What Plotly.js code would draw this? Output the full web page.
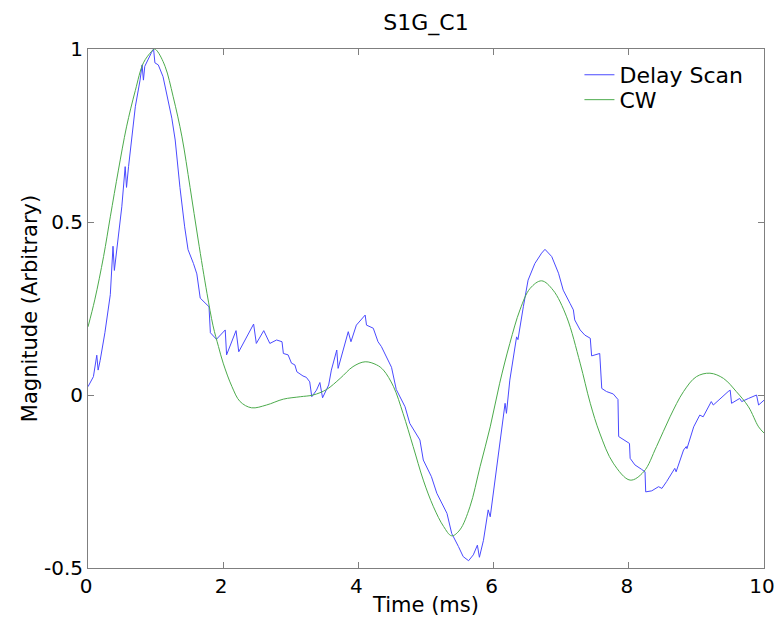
<!DOCTYPE html>
<html>
<head>
<meta charset="utf-8">
<script src="https://cdn.plot.ly/plotly-3.0.1.min.js"></script>
<style>html,body{margin:0;padding:0;background:#fff;}#chart{width:775px;height:626px;}</style>
</head>
<body>
<div id="chart"></div>
<script>
const chartTitle = "S1G_C1";
const xTitle = "Time (ms)";
const yTitle = "Magnitude (Arbitrary)";
const seriesNames = ["Delay Scan", "CW"];
const xTickVals = [0, 2, 4, 6, 8, 10];
const yTickVals = [-0.5, 0, 0.5, 1];
const yTickText = ["-0.5", "0", "0.5", "1"];

const delayX = [
  0, 0.08, 0.13, 0.15, 0.18, 0.25, 0.33, 0.37, 0.39, 0.42,
  0.50, 0.55, 0.57, 0.60, 0.65, 0.70, 0.77, 0.80, 0.82, 0.84,
  0.94, 0.97, 0.99, 1.04, 1.11, 1.16, 1.24, 1.29, 1.36, 1.43,
  1.48, 1.56, 1.61, 1.66, 1.73, 1.79, 1.81, 1.90, 2.03, 2.05,
  2.19, 2.23, 2.45, 2.49, 2.60, 2.69, 2.79, 2.87, 2.89, 2.96,
  3.01, 3.06, 3.09, 3.18, 3.23, 3.28, 3.31, 3.38, 3.43, 3.47,
  3.56, 3.60, 3.68, 3.70, 3.85, 3.89, 3.97, 4.10, 4.12, 4.22,
  4.29, 4.34, 4.49, 4.56, 4.69, 4.76, 4.91, 4.96, 5.08, 5.16,
  5.31, 5.38, 5.48, 5.55, 5.63, 5.70, 5.76, 5.79, 5.85, 5.92,
  5.95, 6.02, 6.09, 6.17, 6.19, 6.24, 6.34, 6.36, 6.44, 6.51,
  6.61, 6.71, 6.76, 6.86, 6.96, 7.03, 7.13, 7.18, 7.20, 7.28,
  7.35, 7.43, 7.45, 7.57, 7.60, 7.67, 7.77, 7.84, 7.85, 7.97,
  8.01, 8.02, 8.09, 8.19, 8.24, 8.25, 8.34, 8.44, 8.49, 8.56,
  8.68, 8.70, 8.81, 8.85, 8.86, 8.96, 9.05, 9.10, 9.22, 9.25,
  9.35, 9.47, 9.50, 9.52, 9.64, 9.67, 9.77, 9.89, 9.92, 10.0
];
const delayY = [
  0.024, 0.053, 0.115, 0.072, 0.10, 0.18, 0.29, 0.43, 0.36, 0.41,
  0.544, 0.66, 0.60, 0.66, 0.756, 0.833, 0.91, 0.954, 0.91, 0.95,
  0.99, 1.0, 0.96, 0.954, 0.92, 0.87, 0.80, 0.737, 0.60, 0.486,
  0.42, 0.38, 0.35, 0.28, 0.266, 0.255, 0.18, 0.161, 0.188, 0.116,
  0.186, 0.125, 0.205, 0.149, 0.186, 0.149, 0.159, 0.154, 0.12, 0.116,
  0.092, 0.087, 0.067, 0.055, 0.051, 0.038, -0.005, 0.014, 0.036, -0.008,
  0.029, 0.072, 0.13, 0.077, 0.183, 0.154, 0.202, 0.231, 0.202, 0.193,
  0.154, 0.14, 0.08, 0.016, -0.034, -0.082, -0.13, -0.188, -0.236, -0.284,
  -0.342, -0.40, -0.438, -0.467, -0.479, -0.462, -0.434, -0.469, -0.42, -0.332,
  -0.352, -0.246, -0.13, -0.024, -0.053, 0.043, 0.168, 0.16, 0.255, 0.332,
  0.38, 0.41, 0.421, 0.40, 0.352, 0.303, 0.265, 0.246, 0.217, 0.188,
  0.173, 0.164, 0.113, 0.12, 0.019, 0.01, 0.003, -0.013, -0.12, -0.135,
  -0.14, -0.183, -0.202, -0.215, -0.222, -0.28, -0.277, -0.265, -0.27, -0.25,
  -0.212, -0.222, -0.159, -0.149, -0.155, -0.092, -0.058, -0.063, -0.019, -0.029,
  -0.01, 0.01, 0.014, -0.024, -0.01, -0.019, -0.01, 0.0, -0.029, -0.015
];

const cwX = [
  0, 0.10, 0.23, 0.33, 0.45, 0.57, 0.70, 0.82, 0.94, 0.98,
  1.02, 1.14, 1.26, 1.39, 1.51, 1.63, 1.76, 1.85, 1.93, 2.00,
  2.13, 2.25, 2.42, 2.64, 2.89, 3.14, 3.33, 3.53, 3.73, 3.92,
  4.10, 4.27, 4.37, 4.52, 4.66, 4.81, 4.96, 5.11, 5.26, 5.38,
  5.50, 5.65, 5.80, 5.95, 6.09, 6.24, 6.39, 6.54, 6.71, 6.88,
  7.08, 7.28, 7.43, 7.57, 7.77, 8.02, 8.22, 8.41, 8.61, 8.81,
  9.00, 9.20, 9.40, 9.59, 9.77, 9.92, 10.0
];
const cwY = [
  0.197, 0.275, 0.40, 0.515, 0.65, 0.775, 0.88, 0.96, 0.993, 1.0,
  0.995, 0.95, 0.862, 0.746, 0.60, 0.448, 0.294, 0.20, 0.14, 0.092,
  0.024, -0.019, -0.037, -0.029, -0.012, -0.005, 0.0, 0.016, 0.048, 0.082,
  0.096, 0.087, 0.072, 0.024, -0.053, -0.149, -0.246, -0.323, -0.38, -0.407,
  -0.39, -0.323, -0.207, -0.092, 0.034, 0.149, 0.246, 0.308, 0.33, 0.303,
  0.226, 0.092, -0.024, -0.11, -0.197, -0.246, -0.222, -0.149, -0.063, 0.01,
  0.053, 0.063, 0.048, 0.01, -0.034, -0.092, -0.11
];

const FONT = "DejaVu Sans, Liberation Sans, Arial, sans-serif";

const traces = [
  {x: delayX, y: delayY, name: seriesNames[0], type: "scatter", mode: "lines",
   line: {color: "#4a4aff", width: 1}, legend: "legend"},
  {x: cwX, y: cwY, name: seriesNames[1], type: "scatter", mode: "lines",
   line: {color: "#4cab4c", width: 1, shape: "spline", smoothing: 1}, legend: "legend2"}
];

const axisCommon = {
  showline: true, linecolor: "#7f7f7f", linewidth: 1, mirror: "ticks",
  ticks: "inside", ticklen: 6, tickcolor: "#7f7f7f", tickwidth: 1,
  showgrid: false, zeroline: false, ticklabeloverflow: "allow",
  tickfont: {family: FONT, size: 20, color: "#000"}
};

const legendCommon = {
  x: 0.727, xanchor: "left", yanchor: "middle",
  bgcolor: "rgba(255,255,255,0)", borderwidth: 0,
  font: {family: FONT, size: 22, color: "#000"}
};

const layout = {
  width: 775, height: 626,
  paper_bgcolor: "#fff", plot_bgcolor: "#fff",
  margin: {l: 88, r: 11, t: 49, b: 58},
  font: {family: FONT, color: "#000"},
  title: {text: chartTitle, font: {family: FONT, size: 22, color: "#000"},
          xref: "paper", x: 0.5, xanchor: "center", yref: "container", y: 1 - 22/626, yanchor: "middle"},
  xaxis: Object.assign({}, axisCommon, {
    range: [0, 10], tickvals: xTickVals, ticktext: xTickVals.map(String),
    ticklabelshift: -2,
    title: {text: xTitle, font: {family: FONT, size: 21, color: "#000"}, standoff: 0}
  }),
  yaxis: Object.assign({}, axisCommon, {
    range: [-0.5, 1], tickvals: yTickVals, ticktext: yTickText,
    title: {text: yTitle, font: {family: FONT, size: 21, color: "#000"}, standoff: 0}
  }),
  showlegend: true,
  legend: Object.assign({}, legendCommon, {y: 0.95}),
  legend2: Object.assign({}, legendCommon, {y: 0.902})
};

Plotly.newPlot("chart", traces, layout, {displayModeBar: false, staticPlot: true});
</script>
</body>
</html>
